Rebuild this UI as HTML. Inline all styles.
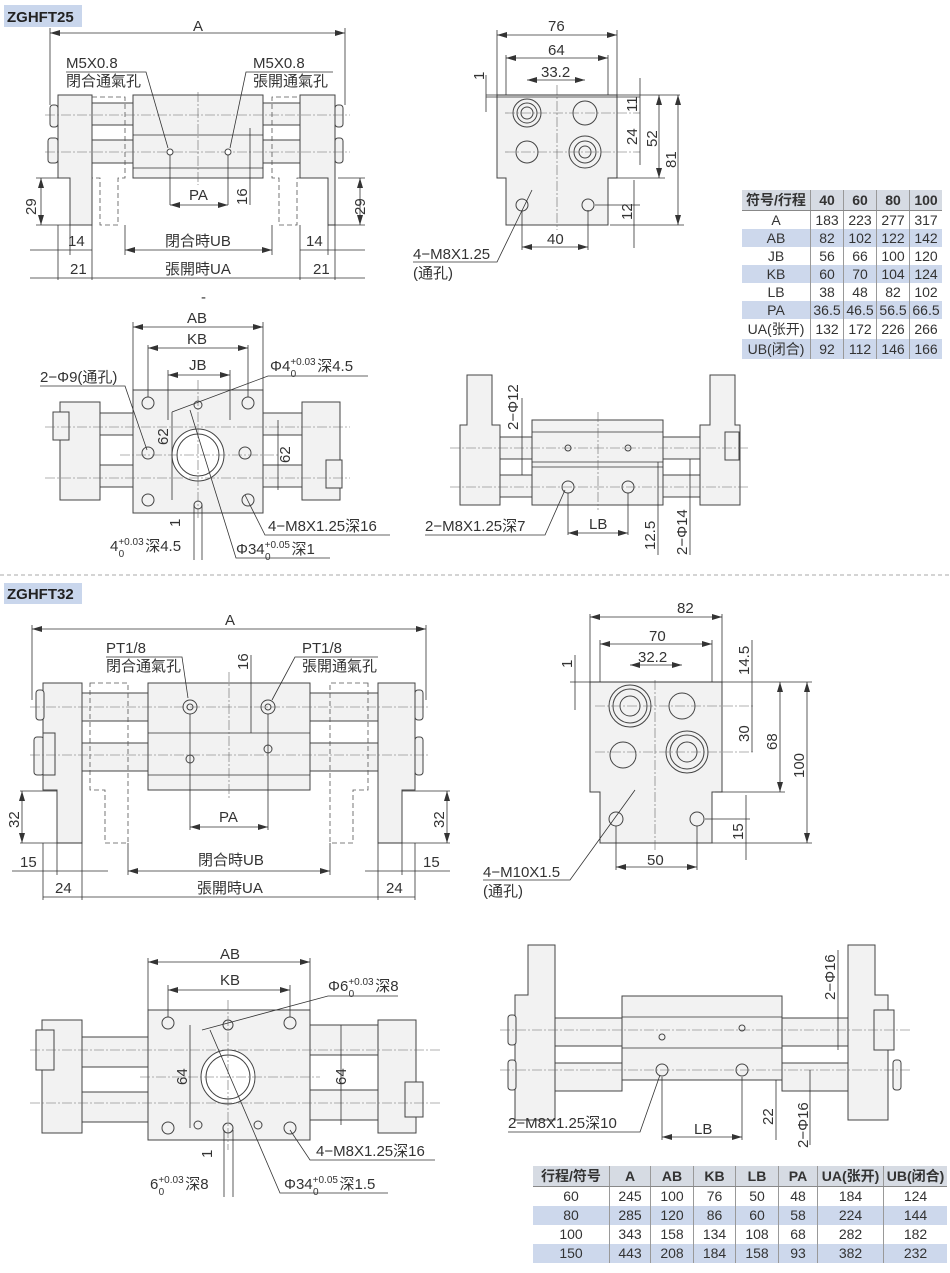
<!DOCTYPE html>
<html><head><meta charset="utf-8"><style>
body{margin:0;background:#fff}
svg{display:block}
text{font-family:"Liberation Sans","Noto Sans CJK SC",sans-serif;fill:#333;font-size:15px}
.p{fill:#f2f2f2;stroke:#444;stroke-width:1}
.w{fill:#fff;stroke:#444;stroke-width:1}
.d{stroke:#333;stroke-width:.8;fill:none}
.c{stroke:#666;stroke-width:.6;stroke-dasharray:10 2 2 2;fill:none}
.h{stroke:#555;stroke-width:.8;stroke-dasharray:5 3;fill:none}
table{border-collapse:collapse;position:absolute;font-family:"Liberation Sans","Noto Sans CJK SC",sans-serif;font-size:14px;color:#333}
td{border-left:1px solid #999;text-align:center;padding:0;white-space:nowrap}
td:first-child{border-left:none}
tr.b td{background:#cdd8ec}
tr.hd td{background:#d6dbe3;font-weight:bold;border-bottom:1px solid #888}
</style></head><body>
<div style="position:relative;width:950px;height:1273px;overflow:hidden">
<svg width="950" height="1273" viewBox="0 0 950 1273">
<defs>
<marker id="a" viewBox="0 0 10 6" refX="10" refY="3" markerWidth="10" markerHeight="6" orient="auto-start-reverse" markerUnits="userSpaceOnUse"><path d="M0,0L10,3L0,6z" fill="#333"/></marker>
</defs>
<rect x="4" y="5" width="78" height="22" fill="#c9d6ec"/>
<text x="7" y="22" style="font-weight:bold;font-size:15px;fill:#222">ZGHFT25</text>
<line x1="0" y1="575" x2="950" y2="575" stroke="#aaa" stroke-dasharray="4 3"/>
<rect x="4" y="583" width="78" height="21" fill="#c9d6ec"/>
<text x="7" y="599" style="font-weight:bold;font-size:15px;fill:#222">ZGHFT32</text>

<!-- VIEW 1 -->
<g>
<rect class="p" x="92" y="103" width="41" height="22"/><rect class="p" x="92" y="140" width="41" height="23"/>
<rect class="p" x="263" y="103" width="37" height="22"/><rect class="p" x="263" y="140" width="37" height="23"/>
<path class="h" d="M92 97H125V178H118V225H100V178H92"/>
<path class="h" d="M305 97H272V178H279V225H297V178H305"/>
<path class="p" d="M58 95H92V225H70V178H58Z"/>
<path class="p" d="M335 95H300V178H328V225H335Z"/>
<rect class="p" x="133" y="95" width="130" height="83"/>
<line class="d" x1="133" y1="135" x2="263" y2="135"/><line class="d" x1="133" y1="168" x2="263" y2="168"/>
<rect class="p" x="50" y="105" width="8" height="22" rx="3"/><rect class="p" x="48" y="138" width="10" height="25" rx="3"/>
<rect class="p" x="335" y="105" width="8" height="22" rx="3"/><rect class="p" x="335" y="138" width="8" height="25" rx="3"/>
<line class="c" x1="45" y1="115" x2="350" y2="115"/><line class="c" x1="45" y1="152" x2="350" y2="152"/>
<line class="c" x1="198" y1="92" x2="198" y2="185"/>
<circle class="w" cx="170" cy="152" r="3"/><circle class="w" cx="228" cy="152" r="3"/>
<line class="d" x1="50" y1="33" x2="345" y2="33" marker-start="url(#a)" marker-end="url(#a)"/>
<line class="d" x1="50" y1="28" x2="50" y2="105"/><line class="d" x1="345" y1="28" x2="345" y2="105"/>
<text x="193" y="31">A</text>
<text x="66" y="68">M5X0.8</text><text x="66" y="86">閉合通氣孔</text>
<polyline class="d" points="66,72 146,72 168,148"/>
<text x="253" y="68">M5X0.8</text><text x="253" y="86">張開通氣孔</text>
<polyline class="d" points="333,72 246,72 230,148"/>
<line class="d" x1="170" y1="155" x2="170" y2="205"/><line class="d" x1="228" y1="155" x2="228" y2="205"/>
<line class="d" x1="170" y1="205" x2="228" y2="205" marker-start="url(#a)" marker-end="url(#a)"/>
<text x="189" y="200">PA</text>
<line class="d" x1="250" y1="128" x2="250" y2="205"/>
<text x="247" y="205" transform="rotate(-90 247 205)">16</text>
<line class="d" x1="36" y1="178" x2="58" y2="178"/><line class="d" x1="36" y1="225" x2="70" y2="225"/>
<line class="d" x1="41" y1="178" x2="41" y2="225" marker-start="url(#a)" marker-end="url(#a)"/>
<text x="36" y="215" transform="rotate(-90 36 215)">29</text>
<line class="d" x1="338" y1="178" x2="365" y2="178"/><line class="d" x1="328" y1="225" x2="365" y2="225"/>
<line class="d" x1="360" y1="178" x2="360" y2="225" marker-start="url(#a)" marker-end="url(#a)"/>
<text x="365" y="215" transform="rotate(-90 365 215)">29</text>
<line class="d" x1="58" y1="225" x2="58" y2="280"/><line class="d" x1="70" y1="225" x2="70" y2="255"/><line class="d" x1="92" y1="225" x2="92" y2="280"/>
<line class="d" x1="125" y1="225" x2="125" y2="255"/><line class="d" x1="272" y1="225" x2="272" y2="255"/>
<line class="d" x1="300" y1="225" x2="300" y2="280"/><line class="d" x1="328" y1="225" x2="328" y2="255"/><line class="d" x1="335" y1="225" x2="335" y2="280"/>
<line class="d" x1="30" y1="250" x2="92" y2="250"/><line class="d" x1="300" y1="250" x2="365" y2="250"/>
<line class="d" x1="125" y1="250" x2="272" y2="250" marker-start="url(#a)" marker-end="url(#a)"/>
<text x="68" y="246">14</text><text x="306" y="246">14</text>
<text x="165" y="246">閉合時UB</text>
<line class="d" x1="30" y1="278" x2="365" y2="278"/>
<text x="70" y="274">21</text><text x="313" y="274">21</text>
<text x="165" y="274">張開時UA</text>
</g>

<!-- VIEW 2 -->
<g>
<path class="p" d="M497 95H617V178H608V225H506V178H497Z"/>
<line class="c" x1="557" y1="85" x2="557" y2="230"/>
<g fill="none" stroke="#444"><circle cx="527" cy="113" r="14"/><circle cx="527" cy="113" r="10"/><circle cx="527" cy="113" r="6"/>
<circle cx="585" cy="113" r="12"/><circle cx="527" cy="152" r="11"/>
<circle cx="585" cy="152" r="16"/><circle cx="585" cy="152" r="11"/><circle cx="585" cy="152" r="6"/>
<circle cx="522" cy="205" r="6"/><circle cx="588" cy="205" r="6"/></g>
<line class="c" x1="505" y1="113" x2="640" y2="113"/><line class="c" x1="505" y1="152" x2="640" y2="152"/>
<line class="d" x1="497" y1="35" x2="617" y2="35" marker-start="url(#a)" marker-end="url(#a)"/>
<line class="d" x1="497" y1="30" x2="497" y2="95"/><line class="d" x1="617" y1="30" x2="617" y2="95"/>
<text x="548" y="31">76</text>
<line class="d" x1="506" y1="58" x2="608" y2="58" marker-start="url(#a)" marker-end="url(#a)"/>
<line class="d" x1="506" y1="55" x2="506" y2="95"/><line class="d" x1="608" y1="55" x2="608" y2="95"/>
<text x="548" y="55">64</text>
<line class="d" x1="527" y1="80" x2="585" y2="80" marker-start="url(#a)" marker-end="url(#a)"/>
<text x="541" y="77">33.2</text>
<line class="d" x1="486" y1="95" x2="680" y2="95"/><line class="d" x1="486" y1="97" x2="640" y2="97"/>
<line class="d" x1="486" y1="75" x2="486" y2="112"/><text x="484" y="80" transform="rotate(-90 484 80)">1</text>
<line class="d" x1="640" y1="78" x2="640" y2="165"/>
<text x="637" y="112" transform="rotate(-90 637 112)">11</text>
<text x="637" y="145" transform="rotate(-90 637 145)">24</text>
<line class="d" x1="610" y1="178" x2="665" y2="178"/>
<line class="d" x1="659" y1="95" x2="659" y2="178" marker-start="url(#a)" marker-end="url(#a)"/>
<text x="657" y="147" transform="rotate(-90 657 147)">52</text>
<line class="d" x1="610" y1="225" x2="684" y2="225"/>
<line class="d" x1="678" y1="95" x2="678" y2="225" marker-start="url(#a)" marker-end="url(#a)"/>
<text x="676" y="168" transform="rotate(-90 676 168)">81</text>
<line class="d" x1="595" y1="205" x2="640" y2="205"/>
<line class="d" x1="634" y1="180" x2="634" y2="248"/>
<text x="632" y="220" transform="rotate(-90 632 220)">12</text>
<line class="d" x1="522" y1="210" x2="522" y2="250"/><line class="d" x1="588" y1="210" x2="588" y2="250"/>
<line class="d" x1="522" y1="247" x2="588" y2="247" marker-start="url(#a)" marker-end="url(#a)"/>
<text x="547" y="244">40</text>
<polyline class="d" points="413,262 497,262 532,190"/>
<text x="413" y="259">4−M8X1.25</text><text x="413" y="278">(通孔)</text>
</g>

<!-- VIEW 3 -->
<g>
<rect class="p" x="100" y="413" width="33" height="22"/><rect class="p" x="100" y="465" width="33" height="22"/>
<rect class="p" x="262" y="413" width="40" height="22"/><rect class="p" x="262" y="465" width="40" height="22"/>
<rect class="p" x="60" y="402" width="40" height="98"/><rect class="p" x="302" y="402" width="38" height="98"/>
<rect class="p" x="53" y="412" width="16" height="28"/><rect class="p" x="326" y="460" width="16" height="28"/>
<rect class="p" x="133" y="390" width="130" height="123"/>
<circle class="w" cx="198" cy="455" r="26"/><circle fill="none" stroke="#444" cx="198" cy="455" r="21"/>
<g fill="none" stroke="#444"><circle cx="148" cy="403" r="6"/><circle cx="248" cy="403" r="6"/><circle cx="148" cy="500" r="6"/><circle cx="248" cy="500" r="6"/><circle cx="148" cy="453" r="6"/><circle cx="245" cy="453" r="6"/><circle cx="198" cy="405" r="4"/><circle cx="198" cy="505" r="4"/></g>
<line class="c" x1="45" y1="427" x2="350" y2="427"/><line class="c" x1="45" y1="478" x2="350" y2="478"/>
<line class="c" x1="120" y1="455" x2="280" y2="455"/><line class="c" x1="198" y1="380" x2="198" y2="520"/>
<line class="d" x1="133" y1="327" x2="263" y2="327" marker-start="url(#a)" marker-end="url(#a)"/>
<line class="d" x1="133" y1="322" x2="133" y2="390"/><line class="d" x1="263" y1="322" x2="263" y2="390"/>
<text x="187" y="323">AB</text>
<line class="d" x1="148" y1="348" x2="248" y2="348" marker-start="url(#a)" marker-end="url(#a)"/>
<line class="d" x1="148" y1="345" x2="148" y2="397"/><line class="d" x1="248" y1="345" x2="248" y2="397"/>
<text x="187" y="344">KB</text>
<line class="d" x1="168" y1="375" x2="230" y2="375" marker-start="url(#a)" marker-end="url(#a)"/>
<line class="d" x1="168" y1="370" x2="168" y2="420"/><line class="d" x1="230" y1="370" x2="230" y2="420"/>
<text x="189" y="370">JB</text>
<text x="40" y="382">2−Φ9(通孔)</text><polyline class="d" points="40,386 125,386 147,450"/>
<text x="270" y="371">Φ4<tspan dy="-6" font-size="10">+0.03</tspan><tspan dx="-25" dy="12" font-size="10">0</tspan><tspan dx="21" dy="-6">深4.5</tspan></text>
<polyline class="d" points="368,376 268,376 172,412"/>
<line class="d" x1="172" y1="412" x2="172" y2="500"/>
<text x="168" y="445" transform="rotate(-90 168 445)">62</text>
<line class="d" x1="278" y1="420" x2="278" y2="490"/>
<text x="290" y="463" transform="rotate(-90 290 463)">62</text>
<text x="268" y="531">4−M8X1.25深16</text><polyline class="d" points="390,535 265,535 245,495"/>
<text x="236" y="554">Φ34<tspan dy="-6" font-size="10">+0.05</tspan><tspan dx="-25" dy="12" font-size="10">0</tspan><tspan dx="21" dy="-6">深1</tspan></text>
<polyline class="d" points="330,558 236,558 190,410"/>
<text x="110" y="551">4<tspan dy="-6" font-size="10">+0.03</tspan><tspan dx="-25" dy="12" font-size="10">0</tspan><tspan dx="21" dy="-6">深4.5</tspan></text>
<line class="d" x1="194" y1="505" x2="194" y2="560"/><line class="d" x1="202" y1="505" x2="202" y2="560"/>
<text x="180" y="527" transform="rotate(-90 180 527)">1</text>
</g>

<!-- VIEW 4 -->
<g>
<rect class="p" x="495" y="437" width="37" height="22"/><rect class="p" x="495" y="475" width="37" height="22"/>
<rect class="p" x="663" y="437" width="37" height="22"/><rect class="p" x="663" y="475" width="37" height="22"/>
<path class="p" d="M467 375H492V425H500V505H460V425H467Z"/>
<path class="p" d="M710 375H735V425H740V505H700V425H710Z"/>
<rect class="p" x="725" y="432" width="14" height="28"/>
<rect class="p" x="532" y="420" width="131" height="85"/>
<line class="d" x1="532" y1="432" x2="663" y2="432"/><line class="d" x1="532" y1="462" x2="663" y2="462"/><line class="d" x1="532" y1="467" x2="663" y2="467"/>
<line class="c" x1="450" y1="448" x2="750" y2="448"/><line class="c" x1="450" y1="487" x2="750" y2="487"/>
<line class="c" x1="598" y1="412" x2="598" y2="510"/>
<g fill="none" stroke="#444"><circle cx="568" cy="487" r="6"/><circle cx="628" cy="487" r="6"/><circle cx="568" cy="448" r="3"/><circle cx="628" cy="448" r="3"/></g>
<line class="d" x1="522" y1="398" x2="522" y2="475"/>
<text x="518" y="430" transform="rotate(-90 518 430)">2−Φ12</text>
<line class="d" x1="568" y1="493" x2="568" y2="535"/><line class="d" x1="628" y1="493" x2="628" y2="535"/>
<line class="d" x1="568" y1="533" x2="628" y2="533" marker-start="url(#a)" marker-end="url(#a)"/>
<text x="589" y="529">LB</text>
<text x="425" y="531">2−M8X1.25深7</text><polyline class="d" points="425,535 545,535 565,490"/>
<line class="d" x1="658" y1="462" x2="658" y2="555"/><text x="655" y="550" transform="rotate(-90 655 550)">12.5</text>
<line class="d" x1="690" y1="459" x2="690" y2="555"/><text x="687" y="555" transform="rotate(-90 687 555)">2−Φ14</text>
</g>

<!-- VIEW 5 -->
<g>
<rect class="p" x="82" y="693" width="66" height="28"/><rect class="p" x="82" y="743" width="66" height="28"/>
<rect class="p" x="310" y="693" width="68" height="28"/><rect class="p" x="310" y="743" width="68" height="28"/>
<path class="h" d="M90 683H128V843H105V790H90Z"/>
<path class="h" d="M368 683H330V843H353V790H368Z"/>
<path class="p" d="M43 683H82V843H57V790H43Z"/>
<path class="p" d="M378 683H415V790H402V843H378Z"/>
<rect class="p" x="36" y="690" width="8" height="30" rx="3"/><rect class="p" x="34" y="737" width="10" height="38" rx="3"/><rect class="p" x="43" y="733" width="12" height="42"/>
<rect class="p" x="415" y="690" width="8" height="30" rx="3"/><rect class="p" x="415" y="737" width="8" height="38" rx="3"/>
<rect class="p" x="148" y="683" width="162" height="107"/>
<line class="d" x1="148" y1="733" x2="310" y2="733"/><line class="d" x1="148" y1="775" x2="310" y2="775"/>
<line class="c" x1="30" y1="707" x2="430" y2="707"/><line class="c" x1="30" y1="755" x2="430" y2="755"/>
<line class="c" x1="229" y1="672" x2="229" y2="798"/>
<g fill="none" stroke="#444"><circle cx="190" cy="707" r="7"/><circle cx="190" cy="707" r="3"/><circle cx="268" cy="707" r="7"/><circle cx="268" cy="707" r="3"/><circle cx="190" cy="759" r="4"/><circle cx="268" cy="749" r="4"/></g>
<line class="d" x1="32" y1="629" x2="426" y2="629" marker-start="url(#a)" marker-end="url(#a)"/>
<line class="d" x1="32" y1="625" x2="32" y2="700"/><line class="d" x1="426" y1="625" x2="426" y2="700"/>
<text x="225" y="625">A</text>
<text x="106" y="653">PT1/8</text><text x="106" y="671">閉合通氣孔</text><polyline class="d" points="106,657 182,657 188,698"/>
<text x="302" y="653">PT1/8</text><text x="302" y="671">張開通氣孔</text><polyline class="d" points="378,657 295,657 272,700"/>
<line class="d" x1="251" y1="655" x2="251" y2="733"/><text x="248" y="670" transform="rotate(-90 248 670)">16</text>
<line class="d" x1="190" y1="714" x2="190" y2="830"/><line class="d" x1="268" y1="714" x2="268" y2="830"/>
<line class="d" x1="190" y1="827" x2="268" y2="827" marker-start="url(#a)" marker-end="url(#a)"/>
<text x="219" y="822">PA</text>
<line class="d" x1="20" y1="791" x2="57" y2="791"/><line class="d" x1="20" y1="843" x2="82" y2="843"/>
<line class="d" x1="22" y1="791" x2="22" y2="843" marker-start="url(#a)" marker-end="url(#a)"/>
<text x="19" y="828" transform="rotate(-90 19 828)">32</text>
<line class="d" x1="402" y1="791" x2="450" y2="791"/><line class="d" x1="378" y1="843" x2="450" y2="843"/>
<line class="d" x1="447" y1="791" x2="447" y2="843" marker-start="url(#a)" marker-end="url(#a)"/>
<text x="444" y="828" transform="rotate(-90 444 828)">32</text>
<line class="d" x1="43" y1="843" x2="43" y2="900"/><line class="d" x1="57" y1="843" x2="57" y2="875"/><line class="d" x1="82" y1="843" x2="82" y2="900"/>
<line class="d" x1="128" y1="843" x2="128" y2="875"/><line class="d" x1="330" y1="843" x2="330" y2="875"/>
<line class="d" x1="378" y1="843" x2="378" y2="900"/><line class="d" x1="402" y1="843" x2="402" y2="875"/><line class="d" x1="415" y1="843" x2="415" y2="900"/>
<line class="d" x1="12" y1="871" x2="108" y2="871"/><line class="d" x1="365" y1="871" x2="450" y2="871"/>
<line class="d" x1="128" y1="871" x2="330" y2="871" marker-start="url(#a)" marker-end="url(#a)"/>
<text x="20" y="867">15</text><text x="423" y="867">15</text><text x="198" y="865">閉合時UB</text>
<line class="d" x1="43" y1="897" x2="415" y2="897"/>
<text x="55" y="893">24</text><text x="386" y="893">24</text><text x="197" y="893">張開時UA</text>
</g>

<!-- VIEW 6 -->
<g>
<path class="p" d="M590 682H722V792H712V843H600V792H590Z"/>
<line class="c" x1="655" y1="680" x2="655" y2="850"/>
<g fill="none" stroke="#444"><circle cx="630" cy="706" r="21"/><circle cx="630" cy="706" r="17"/><circle cx="630" cy="706" r="10"/>
<circle cx="682" cy="706" r="13"/><circle cx="623" cy="755" r="13"/>
<circle cx="687" cy="752" r="21"/><circle cx="687" cy="752" r="17"/><circle cx="687" cy="752" r="10"/>
<circle cx="616" cy="819" r="7"/><circle cx="697" cy="819" r="7"/></g>
<line class="c" x1="595" y1="706" x2="755" y2="706"/><line class="c" x1="595" y1="752" x2="755" y2="752"/>
<line class="d" x1="590" y1="617" x2="722" y2="617" marker-start="url(#a)" marker-end="url(#a)"/>
<line class="d" x1="590" y1="614" x2="590" y2="682"/><line class="d" x1="722" y1="614" x2="722" y2="682"/>
<text x="677" y="613">82</text>
<line class="d" x1="600" y1="644" x2="712" y2="644" marker-start="url(#a)" marker-end="url(#a)"/>
<line class="d" x1="600" y1="640" x2="600" y2="682"/><line class="d" x1="712" y1="640" x2="712" y2="682"/>
<text x="649" y="641">70</text>
<line class="d" x1="630" y1="665" x2="682" y2="665" marker-start="url(#a)" marker-end="url(#a)"/>
<text x="638" y="662">32.2</text>
<line class="d" x1="570" y1="682" x2="812" y2="682"/>
<line class="d" x1="575" y1="655" x2="575" y2="710"/><text x="572" y="668" transform="rotate(-90 572 668)">1</text>
<line class="d" x1="752" y1="640" x2="752" y2="752"/>
<text x="749" y="675" transform="rotate(-90 749 675)">14.5</text>
<text x="749" y="742" transform="rotate(-90 749 742)">30</text>
<line class="d" x1="715" y1="792" x2="785" y2="792"/>
<line class="d" x1="780" y1="682" x2="780" y2="792" marker-start="url(#a)" marker-end="url(#a)"/>
<text x="777" y="750" transform="rotate(-90 777 750)">68</text>
<line class="d" x1="712" y1="843" x2="812" y2="843"/>
<line class="d" x1="807" y1="682" x2="807" y2="843" marker-start="url(#a)" marker-end="url(#a)"/>
<text x="804" y="778" transform="rotate(-90 804 778)">100</text>
<line class="d" x1="705" y1="819" x2="750" y2="819"/>
<line class="d" x1="746" y1="795" x2="746" y2="860"/><text x="743" y="840" transform="rotate(-90 743 840)">15</text>
<line class="d" x1="616" y1="826" x2="616" y2="870"/><line class="d" x1="697" y1="826" x2="697" y2="870"/>
<line class="d" x1="616" y1="867" x2="697" y2="867" marker-start="url(#a)" marker-end="url(#a)"/>
<text x="647" y="865">50</text>
<polyline class="d" points="483,880 570,880 635,790"/>
<text x="483" y="877">4−M10X1.5</text><text x="483" y="896">(通孔)</text>
</g>

<!-- VIEW 7 -->
<g>
<rect class="p" x="82" y="1037" width="66" height="30"/><rect class="p" x="82" y="1092" width="66" height="30"/>
<rect class="p" x="310" y="1025" width="68" height="30"/><rect class="p" x="310" y="1090" width="68" height="30"/>
<rect class="p" x="42" y="1020" width="40" height="113"/><rect class="p" x="378" y="1020" width="38" height="113"/>
<rect class="p" x="36" y="1030" width="18" height="40"/><rect class="p" x="405" y="1082" width="18" height="35"/>
<rect class="p" x="148" y="1010" width="162" height="130"/>
<circle class="w" cx="228" cy="1077" r="27"/><circle fill="none" stroke="#444" cx="228" cy="1077" r="22"/>
<g fill="none" stroke="#444"><circle cx="168" cy="1023" r="6"/><circle cx="290" cy="1023" r="6"/><circle cx="168" cy="1128" r="6"/><circle cx="290" cy="1128" r="6"/><circle cx="228" cy="1025" r="5"/><circle cx="228" cy="1128" r="5"/><circle cx="198" cy="1125" r="4"/><circle cx="258" cy="1125" r="4"/></g>
<line class="c" x1="30" y1="1050" x2="440" y2="1050"/><line class="c" x1="30" y1="1103" x2="440" y2="1103"/>
<line class="c" x1="140" y1="1077" x2="320" y2="1077"/><line class="c" x1="228" y1="1000" x2="228" y2="1150"/>
<line class="d" x1="148" y1="962" x2="310" y2="962" marker-start="url(#a)" marker-end="url(#a)"/>
<line class="d" x1="148" y1="958" x2="148" y2="1010"/><line class="d" x1="310" y1="958" x2="310" y2="1010"/>
<text x="220" y="959">AB</text>
<line class="d" x1="168" y1="990" x2="290" y2="990" marker-start="url(#a)" marker-end="url(#a)"/>
<line class="d" x1="168" y1="985" x2="168" y2="1017"/><line class="d" x1="290" y1="985" x2="290" y2="1017"/>
<text x="220" y="985">KB</text>
<text x="328" y="991">Φ6<tspan dy="-6" font-size="10">+0.03</tspan><tspan dx="-25" dy="12" font-size="10">0</tspan><tspan dx="21" dy="-6">深8</tspan></text>
<polyline class="d" points="398,996 328,996 202,1030"/>
<line class="d" x1="190" y1="1025" x2="190" y2="1128"/><text x="187" y="1085" transform="rotate(-90 187 1085)">64</text>
<line class="d" x1="341" y1="1025" x2="341" y2="1125"/><text x="346" y="1085" transform="rotate(-90 346 1085)">64</text>
<text x="316" y="1156">4−M8X1.25深16</text><polyline class="d" points="435,1160 310,1160 290,1130"/>
<text x="284" y="1189">Φ34<tspan dy="-6" font-size="10">+0.05</tspan><tspan dx="-25" dy="12" font-size="10">0</tspan><tspan dx="21" dy="-6">深1.5</tspan></text>
<polyline class="d" points="388,1193 280,1193 210,1030"/>
<text x="150" y="1189">6<tspan dy="-6" font-size="10">+0.03</tspan><tspan dx="-25" dy="12" font-size="10">0</tspan><tspan dx="21" dy="-6">深8</tspan></text>
<line class="d" x1="224" y1="1130" x2="224" y2="1197"/><line class="d" x1="233" y1="1130" x2="233" y2="1197"/>
<text x="212" y="1158" transform="rotate(-90 212 1158)">1</text>
</g>

<!-- VIEW 8 -->
<g>
<rect class="p" x="555" y="1018" width="67" height="28"/><rect class="p" x="555" y="1063" width="67" height="28"/>
<rect class="p" x="782" y="1018" width="66" height="28"/><rect class="p" x="782" y="1063" width="66" height="28"/>
<path class="p" d="M528 945H555V1120H515V995H528Z"/>
<path class="p" d="M848 945H875V995H888V1120H848Z"/>
<rect class="p" x="874" y="1010" width="20" height="40"/>
<rect class="p" x="508" y="1015" width="8" height="30" rx="3"/><rect class="p" x="508" y="1060" width="8" height="30" rx="3"/>
<rect class="p" x="893" y="1060" width="8" height="30" rx="3"/>
<rect class="p" x="622" y="996" width="160" height="84"/>
<line class="d" x1="622" y1="1017" x2="782" y2="1017"/><line class="d" x1="622" y1="1048" x2="782" y2="1048"/>
<line class="c" x1="500" y1="1030" x2="910" y2="1030"/><line class="c" x1="500" y1="1070" x2="910" y2="1070"/>
<g fill="none" stroke="#444"><circle cx="662" cy="1070" r="6"/><circle cx="742" cy="1070" r="6"/><circle cx="662" cy="1037" r="3"/><circle cx="742" cy="1028" r="3"/></g>
<line class="d" x1="838" y1="950" x2="838" y2="1050"/><text x="835" y="1000" transform="rotate(-90 835 1000)">2−Φ16</text>
<line class="d" x1="662" y1="1077" x2="662" y2="1140"/><line class="d" x1="742" y1="1077" x2="742" y2="1140"/>
<line class="d" x1="662" y1="1137" x2="742" y2="1137" marker-start="url(#a)" marker-end="url(#a)"/>
<text x="694" y="1134">LB</text>
<text x="508" y="1128">2−M8X1.25深10</text><polyline class="d" points="508,1132 640,1132 660,1075"/>
<line class="d" x1="776" y1="1080" x2="776" y2="1140"/><text x="773" y="1125" transform="rotate(-90 773 1125)">22</text>
<line class="d" x1="810" y1="1070" x2="810" y2="1145"/><text x="808" y="1148" transform="rotate(-90 808 1148)">2−Φ16</text>
</g>
<text x="201" y="302" font-size="8">-</text>
</svg>

<table style="left:742px;top:190px;width:200px">
<tr class="hd" style="height:19px"><td style="width:68px">符号/行程</td><td>40</td><td>60</td><td>80</td><td>100</td></tr>
<tr style="height:18px"><td>A</td><td>183</td><td>223</td><td>277</td><td>317</td></tr>
<tr class="b" style="height:18px"><td>AB</td><td>82</td><td>102</td><td>122</td><td>142</td></tr>
<tr style="height:18px"><td>JB</td><td>56</td><td>66</td><td>100</td><td>120</td></tr>
<tr class="b" style="height:18px"><td>KB</td><td>60</td><td>70</td><td>104</td><td>124</td></tr>
<tr style="height:18px"><td>LB</td><td>38</td><td>48</td><td>82</td><td>102</td></tr>
<tr class="b" style="height:18px"><td>PA</td><td>36.5</td><td>46.5</td><td>56.5</td><td>66.5</td></tr>
<tr style="height:18px"><td>UA(张开)</td><td>132</td><td>172</td><td>226</td><td>266</td></tr>
<tr class="b" style="height:18px"><td>UB(闭合)</td><td>92</td><td>112</td><td>146</td><td>166</td></tr>
</table>

<table style="left:533px;top:1166px;width:414px">
<tr class="hd" style="height:20px"><td style="width:76px">行程/符号</td><td style="width:40px">A</td><td style="width:42px">AB</td><td style="width:41px">KB</td><td style="width:42px">LB</td><td style="width:38px">PA</td><td style="width:65px">UA(张开)</td><td>UB(闭合)</td></tr>
<tr style="height:19px"><td>60</td><td>245</td><td>100</td><td>76</td><td>50</td><td>48</td><td>184</td><td>124</td></tr>
<tr class="b" style="height:19px"><td>80</td><td>285</td><td>120</td><td>86</td><td>60</td><td>58</td><td>224</td><td>144</td></tr>
<tr style="height:19px"><td>100</td><td>343</td><td>158</td><td>134</td><td>108</td><td>68</td><td>282</td><td>182</td></tr>
<tr class="b" style="height:19px"><td>150</td><td>443</td><td>208</td><td>184</td><td>158</td><td>93</td><td>382</td><td>232</td></tr>
</table>
</div>
</body></html>
